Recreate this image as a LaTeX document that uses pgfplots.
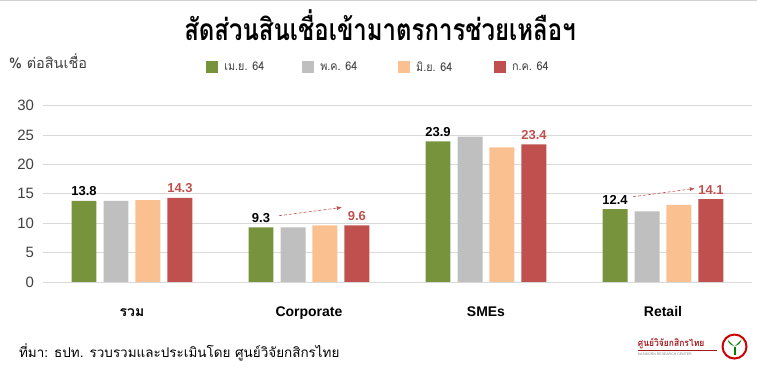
\documentclass[border=0pt]{standalone}
\usepackage{pgfplots}
\pgfplotsset{compat=1.18}
\usetikzlibrary{arrows.meta,calc}
\usepackage{fontspec}
\setmainfont{Liberation Sans}
\newfontfamily\thai[Script=Thai]{Loma}
\newfontfamily\thaititle[Script=Thai,FakeStretch=0.8]{Loma}
\newfontfamily\thaicond[Script=Thai,FakeStretch=0.9]{Loma}
\definecolor{cgreen}{HTML}{77933C}
\definecolor{cgray}{HTML}{BFBFBF}
\definecolor{corange}{HTML}{FAC090}
\definecolor{cred}{HTML}{C0504D}
\definecolor{lred}{HTML}{C0504D}
\definecolor{gridgray}{HTML}{D9D9D9}
\definecolor{txtgray}{HTML}{404040}
\definecolor{logored}{HTML}{A3191E}
\begin{document}
\begin{tikzpicture}[x=1pt,y=1pt]
\begin{scope}[overlay]
\begin{axis}[
  scale only axis, width=709pt, height=176.6pt,
  xmin=-0.5, xmax=3.5, ymin=0, ymax=30,
  ytick={0,5,...,30},
  ymajorgrids, grid style={draw=gridgray, line width=0.8pt},
  axis line style={draw=none}, tick style={draw=none},
  xtick={0,1,2,3},
  xticklabels={{\thai\bfseries รวม}, Corporate, SMEs, Retail},
  xticklabel style={font=\bfseries\fontsize{14}{16}\selectfont, text=black, anchor=base, yshift=-30pt},
  yticklabel style={font=\fontsize{15}{17}\selectfont, text=txtgray, xshift=-6pt},
  /pgf/number format/assume math mode=true,
  ybar, bar width=0.141,
  legend style={at={(axis description cs:0.2257,1.219)}, anchor=west, draw=none, fill=none,
    font=\thaicond\fontsize{12}{14}\selectfont, text=txtgray, legend columns=4},
  clip=false,
]
\coordinate (O) at (rel axis cs:0,0);
\addplot[fill=cgreen, draw=none, bar shift=-0.271,
  nodes near coords, nodes near coords style={font=\bfseries\fontsize{13}{15}\selectfont, text=black, yshift=1.5pt, /pgf/number format/.cd, fixed, precision=1, fixed zerofill},
  legend image code/.code={\fill[cgreen] (0pt,-6pt) rectangle (12pt,6pt);}]
  coordinates {(0,13.8) (1,9.3) (2,23.9) (3,12.4)};
\addlegendentry{\makebox[80pt][l]{\hspace{4pt}เม.ย. 64}}
\addplot[fill=cgray, draw=none, bar shift=-0.090,
  legend image code/.code={\fill[cgray] (0pt,-6pt) rectangle (12pt,6pt);}]
  coordinates {(0,13.8) (1,9.3) (2,24.7) (3,12.0)};
\addlegendentry{\makebox[80pt][l]{\hspace{4pt}พ.ค. 64}}
\addplot[fill=corange, draw=none, bar shift=0.090,
  legend image code/.code={\fill[corange] (0pt,-6pt) rectangle (12pt,6pt);}]
  coordinates {(0,13.9) (1,9.6) (2,22.9) (3,13.1)};
\addlegendentry{\makebox[80pt][l]{\hspace{4pt}มิ.ย. 64}}
\addplot[fill=cred, draw=none, bar shift=0.271,
  nodes near coords, nodes near coords style={font=\bfseries\fontsize{13}{15}\selectfont, text=lred, yshift=1.5pt, /pgf/number format/.cd, fixed, precision=1, fixed zerofill},
  legend image code/.code={\fill[cred] (0pt,-6pt) rectangle (12pt,6pt);}]
  coordinates {(0,14.3) (1,9.6) (2,23.4) (3,14.1)};
\addlegendentry{\hspace{4pt}ก.ค. 64}
\draw[densely dashed, lred, line width=0.6pt, -{Latex[length=5pt,width=4pt]}] (axis cs:0.83,11.26) -- (axis cs:1.186,12.67);
\draw[densely dashed, lred, line width=0.6pt, -{Latex[length=5pt,width=4pt]}] (axis cs:2.83,14.49) -- (axis cs:3.18,15.9);
\end{axis}
\end{scope}
\begin{scope}[shift={($(O)+(-43,-89.7)$)}]
\path (0,0) rectangle (757,372);
\draw[gray!35, line width=1pt] (0,371.5) -- (757,371.5);
% title
\node[font=\thaititle\bfseries\fontsize{30}{34}\selectfont, text=black] at (380,347) {สัดส่วนสินเชื่อเข้ามาตรการช่วยเหลือฯ};
\node[font=\thai\fontsize{14.5}{16}\selectfont, text=txtgray, anchor=west] at (5,311) {\% ต่อสินเชื่อ};
\node[font=\thai\fontsize{13.5}{15}\selectfont, text=black, anchor=west] at (15,19) {ที่มา: ธปท. รวบรวมและประเมินโดย ศูนย์วิจัยกสิกรไทย};
% logo
\node[font=\thaicond\bfseries\fontsize{9.5}{10}\selectfont, text=logored, anchor=west, inner sep=0pt] at (638,28) {ศูนย์วิจัยกสิกรไทย};
\draw[logored, line width=0.8pt] (638,21.5) -- (717,21.5);
\node[font=\fontsize{3.5}{4}\selectfont, text=gray, anchor=west, inner sep=0pt] at (638,17) {KASIKORN RESEARCH CENTER};
\draw[red!80!black, line width=2pt, fill=white] (735,25) circle (12);
\fill[green!50!black] (735,25) -- (728,32) .. controls (729,28) and (732,26) .. (735,25);
\fill[green!50!black] (735,25) -- (742,32) .. controls (741,28) and (738,26) .. (735,25);
\fill[green!50!black] (734,25) rectangle (736,17);
\end{scope}
\end{tikzpicture}
\end{document}
